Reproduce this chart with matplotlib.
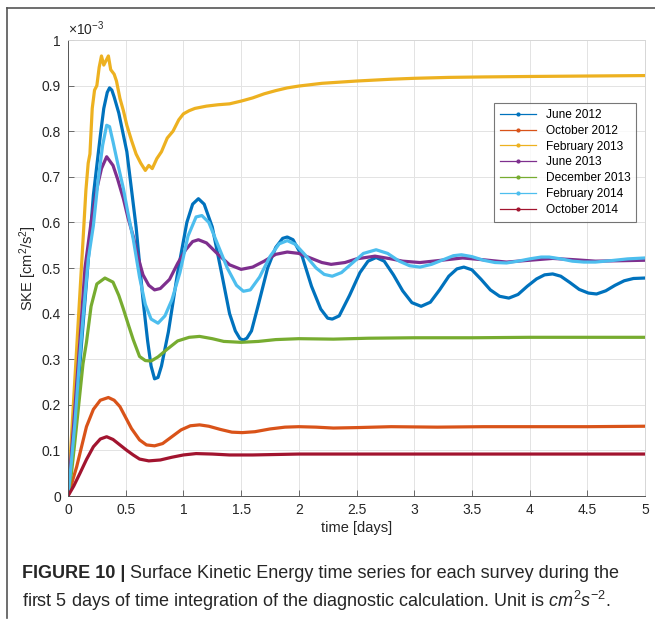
import matplotlib
matplotlib.use("Agg")
import matplotlib.pyplot as plt
from matplotlib.lines import Line2D

plt.rcParams["font.family"] = ["Liberation Sans", "DejaVu Sans"]
plt.rcParams["mathtext.fontset"] = "custom"
plt.rcParams["mathtext.rm"] = "Liberation Sans"
plt.rcParams["mathtext.it"] = "Liberation Sans:italic"

# values in units of 1e-3 cm^2/s^2, time in days
t_jun12 = [0, 0.05, 0.1, 0.17, 0.22, 0.28, 0.31, 0.34, 0.36, 0.38, 0.40, 0.44, 0.51, 0.59, 0.65, 0.69,
           0.72, 0.75, 0.78, 0.81, 0.87, 0.95, 1.03, 1.08, 1.13, 1.18, 1.25, 1.33, 1.40, 1.45,
           1.49, 1.52, 1.55, 1.59, 1.65, 1.73, 1.80, 1.86, 1.90, 1.95, 2.03, 2.11, 2.19, 2.25,
           2.29, 2.35, 2.44, 2.53, 2.60, 2.67, 2.74, 2.82, 2.90, 2.98, 3.06, 3.14, 3.22, 3.30,
           3.37, 3.43, 3.50, 3.58, 3.66, 3.74, 3.82, 3.90, 3.98, 4.06, 4.13, 4.20, 4.27, 4.35,
           4.43, 4.51, 4.58, 4.66, 4.74, 4.82, 4.90, 5.00]
v_jun12 = [0, 0.13, 0.28, 0.50, 0.66, 0.79, 0.85, 0.885, 0.895, 0.89, 0.875, 0.84, 0.755, 0.59, 0.43, 0.34,
           0.285, 0.257, 0.26, 0.285, 0.36, 0.49, 0.60, 0.64, 0.652, 0.64, 0.59, 0.49, 0.40, 0.362,
           0.345, 0.342, 0.346, 0.362, 0.42, 0.50, 0.545, 0.565, 0.568, 0.562, 0.525, 0.46, 0.41, 0.39,
           0.388, 0.395, 0.44, 0.49, 0.515, 0.523, 0.515, 0.485, 0.45, 0.424, 0.416, 0.425, 0.452, 0.482,
           0.498, 0.502, 0.496, 0.475, 0.452, 0.438, 0.434, 0.442, 0.46, 0.476, 0.485, 0.487, 0.482, 0.468,
           0.453, 0.445, 0.443, 0.45, 0.462, 0.472, 0.477, 0.478]

t_oct12 = [0, 0.075, 0.16, 0.22, 0.28, 0.35, 0.40, 0.45, 0.50, 0.55, 0.62, 0.68, 0.75, 0.82, 0.90,
           0.98, 1.06, 1.14, 1.22, 1.32, 1.42, 1.51, 1.62, 1.75, 1.88, 2.0, 2.15, 2.3, 2.5, 2.8,
           3.2, 3.6, 4.0, 4.5, 5.0]
v_oct12 = [0, 0.064, 0.152, 0.19, 0.21, 0.216, 0.21, 0.196, 0.172, 0.148, 0.123, 0.112, 0.11, 0.115, 0.13,
           0.145, 0.154, 0.156, 0.153, 0.146, 0.14, 0.139, 0.141, 0.147, 0.151, 0.152, 0.151, 0.149, 0.15, 0.152,
           0.151, 0.152, 0.152, 0.152, 0.153]

t_feb13 = [0, 0.13, 0.155, 0.175, 0.19, 0.21, 0.23, 0.25, 0.27, 0.29, 0.31, 0.33, 0.35, 0.37, 0.40,
           0.42, 0.45, 0.48, 0.51, 0.55, 0.59, 0.63, 0.67, 0.70, 0.73, 0.77, 0.81, 0.86, 0.91, 0.96,
           1.0, 1.05, 1.1, 1.2, 1.3, 1.4, 1.5, 1.6, 1.7, 1.8, 1.9, 2.0, 2.2, 2.5, 2.8,
           3.0, 3.3, 3.6, 4.0, 4.5, 5.0]
v_feb13 = [0, 0.56, 0.67, 0.73, 0.75, 0.85, 0.89, 0.90, 0.94, 0.965, 0.945, 0.955, 0.965, 0.935, 0.925,
           0.91, 0.872, 0.845, 0.813, 0.78, 0.75, 0.73, 0.714, 0.725, 0.718, 0.74, 0.755, 0.785, 0.80, 0.825,
           0.838, 0.845, 0.85, 0.855, 0.858, 0.86, 0.866, 0.873, 0.882, 0.889, 0.895, 0.899, 0.905, 0.91, 0.914,
           0.916, 0.918, 0.919, 0.92, 0.921, 0.922]

t_jun13 = [0, 0.05, 0.10, 0.147, 0.2, 0.25, 0.29, 0.335, 0.39, 0.43, 0.48, 0.52, 0.565, 0.60, 0.65,
           0.70, 0.75, 0.80, 0.88, 0.95, 1.02, 1.08, 1.13, 1.2, 1.3, 1.4, 1.5, 1.6, 1.7, 1.8,
           1.9, 2.0, 2.1, 2.2, 2.28, 2.4, 2.5, 2.66, 2.8, 2.9, 3.05, 3.2, 3.42, 3.6, 3.8,
           4.0, 4.2, 4.4, 4.57, 4.8, 5.0]
v_jun13 = [0, 0.16, 0.33, 0.5, 0.6, 0.674, 0.718, 0.744, 0.725, 0.695, 0.652, 0.61, 0.57, 0.53, 0.485,
           0.462, 0.452, 0.455, 0.475, 0.51, 0.54, 0.558, 0.562, 0.555, 0.53, 0.507, 0.497, 0.502, 0.515, 0.53,
           0.535, 0.532, 0.522, 0.512, 0.508, 0.512, 0.52, 0.526, 0.52, 0.515, 0.512, 0.516, 0.522, 0.518, 0.513,
           0.517, 0.521, 0.518, 0.515, 0.516, 0.517]

t_dec13 = [0, 0.03, 0.06, 0.104, 0.13, 0.16, 0.2, 0.25, 0.32, 0.39, 0.44, 0.48, 0.52, 0.565, 0.62,
           0.67, 0.72, 0.78, 0.86, 0.95, 1.05, 1.14, 1.25, 1.35, 1.5, 1.65, 1.8, 2.0, 2.3, 2.6,
           3.0, 3.5, 4.0, 4.5, 5.0]
v_dec13 = [0, 0.05, 0.12, 0.227, 0.29, 0.337, 0.416, 0.465, 0.478, 0.469, 0.44, 0.41, 0.378, 0.343, 0.306,
           0.297, 0.296, 0.305, 0.322, 0.34, 0.348, 0.35, 0.345, 0.339, 0.337, 0.339, 0.343, 0.345, 0.344, 0.346,
           0.347, 0.347, 0.348, 0.348, 0.348]

t_feb14 = [0, 0.017, 0.06, 0.1, 0.14, 0.176, 0.22, 0.26, 0.30, 0.335, 0.36, 0.39, 0.43, 0.48, 0.52,
           0.565, 0.62, 0.67, 0.72, 0.78, 0.84, 0.90, 0.97, 1.04, 1.11, 1.16, 1.22, 1.3, 1.38, 1.46,
           1.52, 1.58, 1.66, 1.75, 1.83, 1.9, 1.97, 2.05, 2.15, 2.22, 2.29, 2.37, 2.46, 2.56, 2.67,
           2.77, 2.87, 2.96, 3.05, 3.15, 3.25, 3.34, 3.41, 3.5, 3.6, 3.7, 3.8, 3.9, 4.0, 4.1,
           4.17, 4.27, 4.37, 4.47, 4.57, 4.7, 4.85, 5.0]
v_feb14 = [0, 0.042, 0.16, 0.3, 0.42, 0.52, 0.593, 0.69, 0.769, 0.813, 0.81, 0.777, 0.73, 0.674, 0.62,
           0.564, 0.48, 0.42, 0.388, 0.379, 0.395, 0.43, 0.49, 0.57, 0.612, 0.615, 0.6, 0.55, 0.5, 0.462,
           0.449, 0.452, 0.48, 0.525, 0.553, 0.56, 0.552, 0.53, 0.5, 0.486, 0.482, 0.49, 0.51, 0.532, 0.54,
           0.532, 0.515, 0.505, 0.502, 0.508, 0.518, 0.527, 0.529, 0.525, 0.517, 0.512, 0.511, 0.515, 0.52, 0.524,
           0.524, 0.52, 0.515, 0.513, 0.513, 0.516, 0.52, 0.522]

t_oct14 = [0, 0.05, 0.104, 0.16, 0.22, 0.28, 0.335, 0.39, 0.45, 0.51, 0.565, 0.62, 0.7, 0.8, 0.9,
           1.0, 1.11, 1.25, 1.4, 1.6, 1.8, 2.0, 2.5, 3.0, 4.0, 5.0]
v_oct14 = [0, 0.022, 0.05, 0.08, 0.108, 0.125, 0.13, 0.124, 0.112, 0.1, 0.09, 0.081, 0.077, 0.079, 0.085,
           0.09, 0.093, 0.092, 0.09, 0.09, 0.091, 0.092, 0.092, 0.092, 0.092, 0.092]

labels = ["June 2012", "October 2012", "February 2013", "June 2013",
          "December 2013", "February 2014", "October 2014"]
colors = ["#0072BD", "#D95319", "#EDB120", "#7E2F8E", "#77AC30", "#4DBEEE", "#A2142F"]
series = [(t_jun12, v_jun12), (t_oct12, v_oct12), (t_feb13, v_feb13), (t_jun13, v_jun13),
          (t_dec13, v_dec13), (t_feb14, v_feb14), (t_oct14, v_oct14)]

fig = plt.figure(figsize=(6.55, 6.25), dpi=100)
ax = fig.add_axes([68 / 655, 1 - 496 / 625, 577 / 655, 456 / 625])

for (t, v), c in zip(series, colors):
    ax.plot(t, v, color=c, linewidth=2.3, solid_joinstyle="round")

ax.set_xlim(0, 5)
ax.set_ylim(0, 1)
ax.set_xticks([0, 0.5, 1, 1.5, 2, 2.5, 3, 3.5, 4, 4.5, 5])
ax.set_xticklabels(["0", "0.5", "1", "1.5", "2", "2.5", "3", "3.5", "4", "4.5", "5"])
ax.set_yticks([0, 0.1, 0.2, 0.3, 0.4, 0.5, 0.6, 0.7, 0.8, 0.9, 1])
ax.set_yticklabels(["0", "0.1", "0.2", "0.3", "0.4", "0.5", "0.6", "0.7", "0.8", "0.9", "1"])
ax.grid(True, color="#e3e3e3", linewidth=0.7)
ax.set_axisbelow(True)
ax.tick_params(direction="in", length=4, width=0.6, colors="#555555",
               labelcolor="#262626", labelsize=10, pad=5)
for s in ["left", "bottom"]:
    ax.spines[s].set_color("#555555")
    ax.spines[s].set_linewidth(0.7)
for s in ["top", "right"]:
    ax.spines[s].set_color("#d6d6d6")
    ax.spines[s].set_linewidth(0.7)

ax.set_xlabel("time [days]", fontsize=10.5, color="#262626", labelpad=3)
ax.set_ylabel(r"SKE [cm$^\mathrm{2}$/s$^\mathrm{2}$]", fontsize=10.5, color="#262626")
ax.yaxis.set_label_coords(-0.05, 0.5)
ax.text(0.0, 1.005, r"$\times$10$^{\mathrm{-3}}$", transform=ax.transAxes,
        fontsize=10, color="#262626", ha="left", va="bottom")

handles = [Line2D([], [], color=c, linewidth=0.9, marker=".", markersize=4) for c in colors]
leg = ax.legend(handles, labels, loc="upper right", bbox_to_anchor=(0.985, 0.862),
                fontsize=8.6, frameon=True, fancybox=False, handlelength=3.0,
                labelspacing=0.32, borderpad=0.5, handletextpad=0.8, borderaxespad=0)
leg.get_frame().set_edgecolor("#555555")
leg.get_frame().set_linewidth(0.8)

# outer frame of the figure panel: top and left edges only
fig.add_artist(Line2D([7 / 655, 1.0], [1 - 8 / 625, 1 - 8 / 625], transform=fig.transFigure,
                      color="#555555", linewidth=1.2))
fig.add_artist(Line2D([7 / 655, 7 / 655], [1 - 8 / 625, 1 - 618 / 625], transform=fig.transFigure,
                      color="#555555", linewidth=1.2))

t1 = fig.text(22 / 655, 1 - 578 / 625, "FIGURE 10 |", fontsize=13, fontweight="bold",
              color="#262626", va="baseline")
ax.annotate(" Surface Kinetic Energy time series for each survey during the", xy=(1, 0),
            xycoords=t1, xytext=(0, 0), textcoords="offset points", fontsize=13,
            color="#262626", va="bottom", annotation_clip=False)
fig.text(22 / 655, 1 - 607 / 625,
         r"first 5 days of time integration of the diagnostic calculation. Unit is $cm^2s^{-2}$.",
         fontsize=13, color="#262626", va="baseline")

fig.savefig("out.png", dpi=100)
